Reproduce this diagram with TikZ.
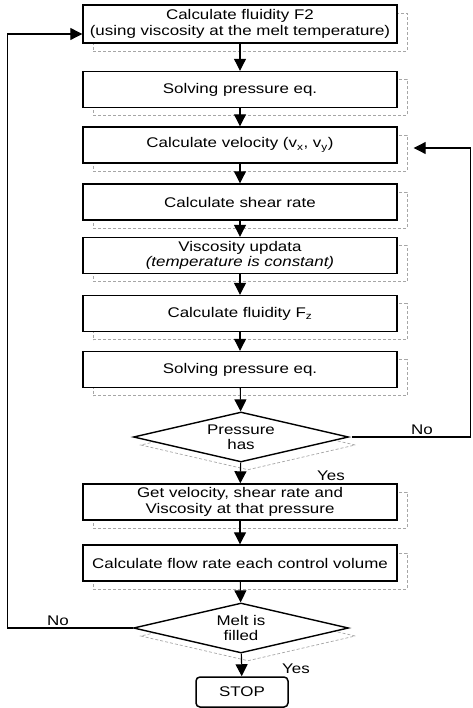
\documentclass[tikz,border=0pt]{standalone}
\usepackage{fontspec}
\setmainfont{Liberation Sans}[FakeStretch=1.21]
\usetikzlibrary{shapes.geometric, arrows.meta}
\begin{document}
\begin{tikzpicture}[x=1pt,y=-1pt,
  font=\fontsize{14}{15.5}\selectfont,
  proc/.style={draw, line width=1.4pt, fill=white, minimum width=314pt,
    minimum height=36pt, inner sep=1pt, align=center,
    preaction={draw=gray!70, line width=0.7pt, densely dashed,
      transform canvas={shift={(10pt,-8pt)}}}},
  dec/.style={draw, diamond, line width=1.4pt, fill=white, inner sep=0pt,
    shape aspect=4.3, minimum width=215pt, minimum height=50pt, align=center,
    preaction={draw=gray!70, line width=0.7pt, densely dashed,
      transform canvas={shift={(7pt,-8pt)}}}},
  stopbox/.style={draw, line width=1.5pt, rounded corners=4pt, fill=white,
    minimum width=92pt, minimum height=30pt, inner sep=1pt},
  arr/.style={-{Triangle[length=12pt,width=12pt]}, line width=1.1pt},
  lbl/.style={inner sep=0pt, anchor=base}]
\useasboundingbox (0,0) rectangle (472,708);

\node[proc, minimum height=38pt] (b1) at (240,24) {Calculate fluidity F2\\(using viscosity at the melt temperature)};
\node[proc] (b2) at (240,89.5) {Solving pressure eq.};
\node[proc] (b3) at (240,145) {Calculate velocity (v\textsubscript{x}, v\textsubscript{y})};
\node[proc] (b4) at (240,202) {Calculate shear rate};
\node[proc] (b5) at (240,255.5) {Viscosity updata\\\textit{(temperature is constant)}};
\node[proc] (b6) at (240,313.5) {Calculate fluidity F\textsubscript{z}};
\node[proc] (b7) at (240,369.5) {Solving pressure eq.};
\node[dec] (d1) at (241,437) {Pressure\\has};
\node[proc] (b8) at (240,502) {Get velocity, shear rate and\\Viscosity at that pressure};
\node[proc] (b9) at (240,563) {Calculate flow rate each control volume};
\node[dec] (d2) at (241,628) {Melt is\\filled};
\node[stopbox] (st) at (242,692) {STOP};

\draw[arr] (b1) -- (b2);
\draw[arr] (b2) -- (b3);
\draw[arr] (b3) -- (b4);
\draw[arr] (b4) -- (b5);
\draw[arr] (b5) -- (b6);
\draw[arr] (b6) -- (b7);
\draw[arr] (b7) -- (d1);
\draw[arr] (d1) -- (b8);
\draw[arr] (b8) -- (b9);
\draw[arr] (b9) -- (d2);
\draw[arr] (d2) -- (st);

\draw[arr] ([xshift=3pt]d1.east) -- ++(118,0) |- ([xshift=16pt,yshift=-3pt]b3.east);
\draw[arr] (d2.west) -- ++(-125,0) |- ([yshift=-10pt]b1.west);

\node[lbl] (no1) at (422,434) {No};
\node[lbl] (yes1) at (331,480) {Yes};
\node[lbl] (no2) at (58,625) {No};
\node[lbl] (yes2) at (296,673) {Yes};
\end{tikzpicture}
\end{document}
